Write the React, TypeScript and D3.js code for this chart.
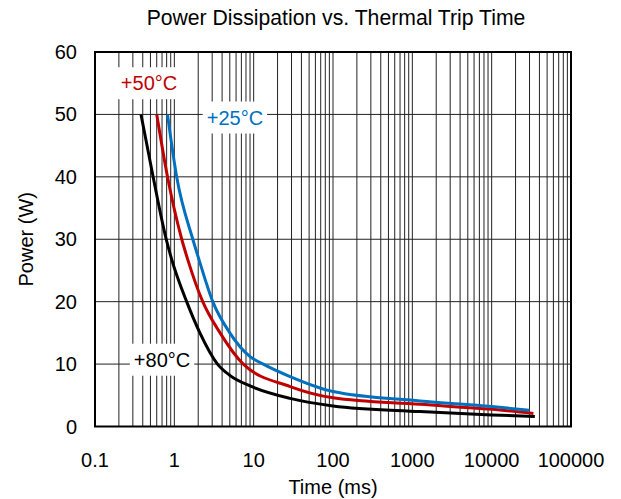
import { useEffect, useRef } from 'react';
import * as d3 from 'd3';

const WIDTH = 621;
const HEIGHT = 499;
const MARGIN = { top: 52, right: 50, bottom: 72.5, left: 95 };
const FONT = 'Arial, "Liberation Sans", Helvetica, sans-serif';

// Trip time (ms) / power (W)
const TIME_80 = [0.38, 0.54, 0.79, 0.93, 1.43, 2.1, 3.5, 5, 9, 28.8, 100, 1250, 10000, 35000];
const POWER_80 = [50, 40, 30, 26.7, 20, 15, 10, 8.2, 6.5, 4.5, 3.3, 2.4, 1.85, 1.6];
const TIME_50 = [0.6, 0.82, 1.24, 1.48, 2.28, 3.77, 7.4, 28.8, 100, 1250, 10000, 33600];
const POWER_50 = [50, 40, 30, 26.7, 20, 15, 10, 6.4, 4.6, 3.55, 2.75, 2.1];
const TIME_25 = [0.82, 1.07, 1.71, 2.05, 3.05, 5, 9, 13.2, 28.8, 100, 1250, 10000, 30000];
const POWER_25 = [50, 40, 30, 26.7, 20, 15, 11.2, 10, 8, 5.6, 4.1, 3.2, 2.6];

const SERIES_LABELS = ['+25°C', '+50°C', '+80°C'];
const SERIES_COLORS = ['#0070C0', '#C00000', '#000000'];
const LABEL_TIME = [5.8, 0.48, 0.7];
const LABEL_POWER = [49.5, 55, 10.7];

const X_TICKS = [0.1, 1, 10, 100, 1000, 10000, 100000];
const X_TICK_LABELS = ['0.1', '1', '10', '100', '1000', '10000', '100000'];
const Y_TICKS = [0, 10, 20, 30, 40, 50, 60];

export default function App() {
  const svgRef = useRef<SVGSVGElement | null>(null);

  useEffect(() => {
    const svgEl = svgRef.current;
    if (!svgEl) return;
    const innerWidth = WIDTH - MARGIN.left - MARGIN.right;
    const innerHeight = HEIGHT - MARGIN.top - MARGIN.bottom;

    const x = d3.scaleLog().domain([0.1, 100000]).range([0, innerWidth]);
    const y = d3.scaleLinear().domain([0, 60]).range([innerHeight, 0]);

    const svg = d3.select(svgEl);
    svg.selectAll('*').remove();

    svg
      .append('text')
      .attr('x', 336)
      .attr('y', 25)
      .attr('text-anchor', 'middle')
      .attr('font-family', FONT)
      .attr('font-size', 21.2)
      .attr('fill', '#000')
      .text('Power Dissipation vs. Thermal Trip Time');

    const root = svg.append('g').attr('transform', `translate(${MARGIN.left},${MARGIN.top})`);

    // grid: vertical lines at every 1..9 of each decade
    const minorTicks: number[] = [];
    for (let e = -1; e < 5; e++) {
      for (let m = 1; m < 10; m++) minorTicks.push(m * Math.pow(10, e));
    }
    root
      .append('g')
      .selectAll('line')
      .data(minorTicks)
      .join('line')
      .attr('x1', (d) => x(d))
      .attr('x2', (d) => x(d))
      .attr('y1', 0)
      .attr('y2', innerHeight)
      .attr('stroke', '#222')
      .attr('stroke-width', 1);
    root
      .append('g')
      .selectAll('line')
      .data(Y_TICKS)
      .join('line')
      .attr('x1', 0)
      .attr('x2', innerWidth)
      .attr('y1', (d) => y(d))
      .attr('y2', (d) => y(d))
      .attr('stroke', '#222')
      .attr('stroke-width', 1);

    const series = [
      { t: TIME_25, p: POWER_25 },
      { t: TIME_50, p: POWER_50 },
      { t: TIME_80, p: POWER_80 },
    ];
    const line = d3
      .line<[number, number]>()
      .x((d) => x(d[0]))
      .y((d) => y(d[1]))
      .curve(d3.curveMonotoneX);

    // labels with white boxes that mask the grid
    series.forEach((_, i) => {
      const g = root.append('g');
      const rect = g.append('rect').attr('fill', '#fff');
      const text = g
        .append('text')
        .attr('x', x(LABEL_TIME[i]))
        .attr('y', y(LABEL_POWER[i]))
        .attr('dy', '0.35em')
        .attr('text-anchor', 'middle')
        .attr('font-family', FONT)
        .attr('font-size', 20)
        .attr('fill', SERIES_COLORS[i])
        .text(SERIES_LABELS[i]);
      const bb = (text.node() as SVGTextElement).getBBox();
      rect
        .attr('x', bb.x - 4)
        .attr('y', bb.y - 5)
        .attr('width', bb.width + 8)
        .attr('height', bb.height + 10);
    });

    [2, 1, 0].forEach((i) => {
      const pts = series[i].t.map((t, k) => [t, series[i].p[k]] as [number, number]);
      root
        .append('path')
        .datum(pts)
        .attr('fill', 'none')
        .attr('stroke', SERIES_COLORS[i])
        .attr('stroke-width', 3)
        .attr('stroke-linejoin', 'round')
        .attr('d', line);
    });

    // frame
    root
      .append('rect')
      .attr('x', 0)
      .attr('y', 0)
      .attr('width', innerWidth)
      .attr('height', innerHeight)
      .attr('fill', 'none')
      .attr('stroke', '#000')
      .attr('stroke-width', 2);

    root
      .append('g')
      .selectAll('text')
      .data(X_TICKS)
      .join('text')
      .attr('x', (d) => x(d))
      .attr('y', innerHeight + 40)
      .attr('text-anchor', 'middle')
      .attr('font-family', FONT)
      .attr('font-size', 20)
      .attr('fill', '#000')
      .text((_, i) => X_TICK_LABELS[i]);
    root
      .append('g')
      .selectAll('text')
      .data(Y_TICKS)
      .join('text')
      .attr('x', -18)
      .attr('y', (d) => y(d))
      .attr('dy', '0.35em')
      .attr('text-anchor', 'end')
      .attr('font-family', FONT)
      .attr('font-size', 20)
      .attr('fill', '#000')
      .text((d) => String(d));

    root
      .append('text')
      .attr('x', innerWidth / 2)
      .attr('y', innerHeight + 67)
      .attr('text-anchor', 'middle')
      .attr('font-family', FONT)
      .attr('font-size', 20)
      .attr('fill', '#000')
      .text('Time (ms)');
    root
      .append('text')
      .attr('transform', `translate(${-62},${innerHeight / 2}) rotate(-90)`)
      .attr('text-anchor', 'middle')
      .attr('font-family', FONT)
      .attr('font-size', 20)
      .attr('fill', '#000')
      .text('Power (W)');
  }, []);

  return (
    <svg
      ref={svgRef}
      width={WIDTH}
      height={HEIGHT}
      style={{ position: 'absolute', left: 0, top: 0, background: '#fff' }}
    />
  );
}
